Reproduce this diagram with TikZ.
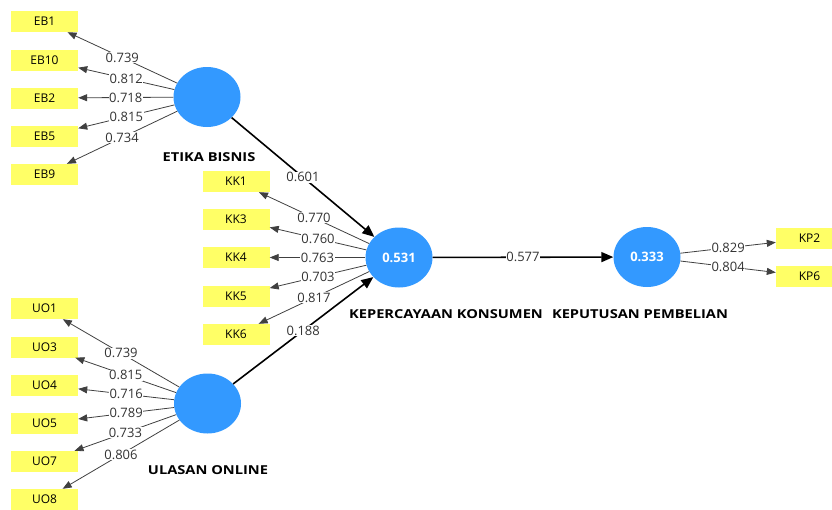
\documentclass[tikz,border=0pt]{standalone}
\usepackage{fontspec}
\setmainfont{Open Sans}
\newfontfamily\lvfont[FakeStretch=1.19]{Open Sans}
\usetikzlibrary{shapes.geometric,arrows.meta}
\definecolor{lvblue}{RGB}{51,153,255}
\definecolor{indyellow}{RGB}{255,255,102}
\begin{document}
\begin{tikzpicture}[x=1pt,y=-1pt,
 lv/.style={ellipse,fill=lvblue,minimum width=67pt,minimum height=60pt,inner sep=0pt,text=white,font=\bfseries\fontsize{13}{15}\selectfont},
 ind/.style={rectangle,fill=indyellow,minimum width=67pt,minimum height=21pt,inner sep=0pt,font=\fontsize{12}{14}\selectfont},
 lvname/.style={font=\lvfont\bfseries\fontsize{12.3}{14}\selectfont},
 load/.style={draw=black!75,line width=0.8pt,-{Triangle[length=9pt,width=7pt]}},
 struct/.style={draw=black,line width=1.6pt,-{Triangle[length=12pt,width=10pt]}},
 val/.style={fill=white,inner sep=0.6pt,text=black!80,font=\fontsize{13}{15}\selectfont}]
\useasboundingbox (0,0) rectangle (832,509);
% latent variables
\node[lv] (EB) at (207,97) {};
\node[lv] (KK) at (399,257.5) {0.531};
\node[lv] (UO) at (207.5,403.5) {};
\node[lv] (KP) at (647,257) {0.333};
\node[lvname] (nEB) at (209,157) {ETIKA BISNIS};
\node[lvname] (nKK) at (446,314) {KEPERCAYAAN KONSUMEN};
\node[lvname] (nUO) at (208,470) {ULASAN ONLINE};
\node[lvname] (nKP) at (640,314) {KEPUTUSAN PEMBELIAN};
% indicators
\node[ind] (EB1) at (44.5,21.5) {EB1};
\node[ind] (EB10) at (44.5,60) {EB10};
\node[ind] (EB2) at (44.5,98) {EB2};
\node[ind] (EB5) at (44.5,136.5) {EB5};
\node[ind] (EB9) at (44.5,174.5) {EB9};
\node[ind] (KK1) at (236,181.5) {KK1};
\node[ind] (KK3) at (236,219.5) {KK3};
\node[ind] (KK4) at (236,257.5) {KK4};
\node[ind] (KK5) at (236,296) {KK5};
\node[ind] (KK6) at (236,334.5) {KK6};
\node[ind] (UO1) at (44.5,308.5) {UO1};
\node[ind] (UO3) at (44.5,347) {UO3};
\node[ind] (UO4) at (44.5,385) {UO4};
\node[ind] (UO5) at (44.5,423) {UO5};
\node[ind] (UO7) at (44.5,461.5) {UO7};
\node[ind] (UO8) at (44.5,499.5) {UO8};
\node[ind] (KP2) at (809.5,238.5) {KP2};
\node[ind] (KP6) at (809.5,276.5) {KP6};
% loadings
\draw[load] (EB) -- node[val] {0.739} (EB1);
\draw[load] (EB) -- node[val] {0.812} (EB10);
\draw[load] (EB) -- node[val] {0.718} (EB2);
\draw[load] (EB) -- node[val] {0.815} (EB5);
\draw[load] (EB) -- node[val] {0.734} (EB9);
\draw[load] (KK) -- node[val] {0.770} (KK1);
\draw[load] (KK) -- node[val] {0.760} (KK3);
\draw[load] (KK) -- node[val] {0.763} (KK4);
\draw[load] (KK) -- node[val] {0.703} (KK5);
\draw[load] (KK) -- node[val] {0.817} (KK6);
\draw[load] (UO) -- node[val] {0.739} (UO1);
\draw[load] (UO) -- node[val] {0.815} (UO3);
\draw[load] (UO) -- node[val] {0.716} (UO4);
\draw[load] (UO) -- node[val] {0.789} (UO5);
\draw[load] (UO) -- node[val] {0.733} (UO7);
\draw[load] (UO) -- node[val] {0.806} (UO8);
\draw[load] (KP) -- node[val] {0.829} (KP2);
\draw[load] (KP) -- node[val] {0.804} (KP6);
% paths
\draw[struct] (EB) -- node[val] {0.601} (KK);
\draw[struct] (UO) -- node[val] {0.188} (KK);
\draw[struct] (KK) -- node[val] {0.577} (KP);
\end{tikzpicture}
\end{document}
